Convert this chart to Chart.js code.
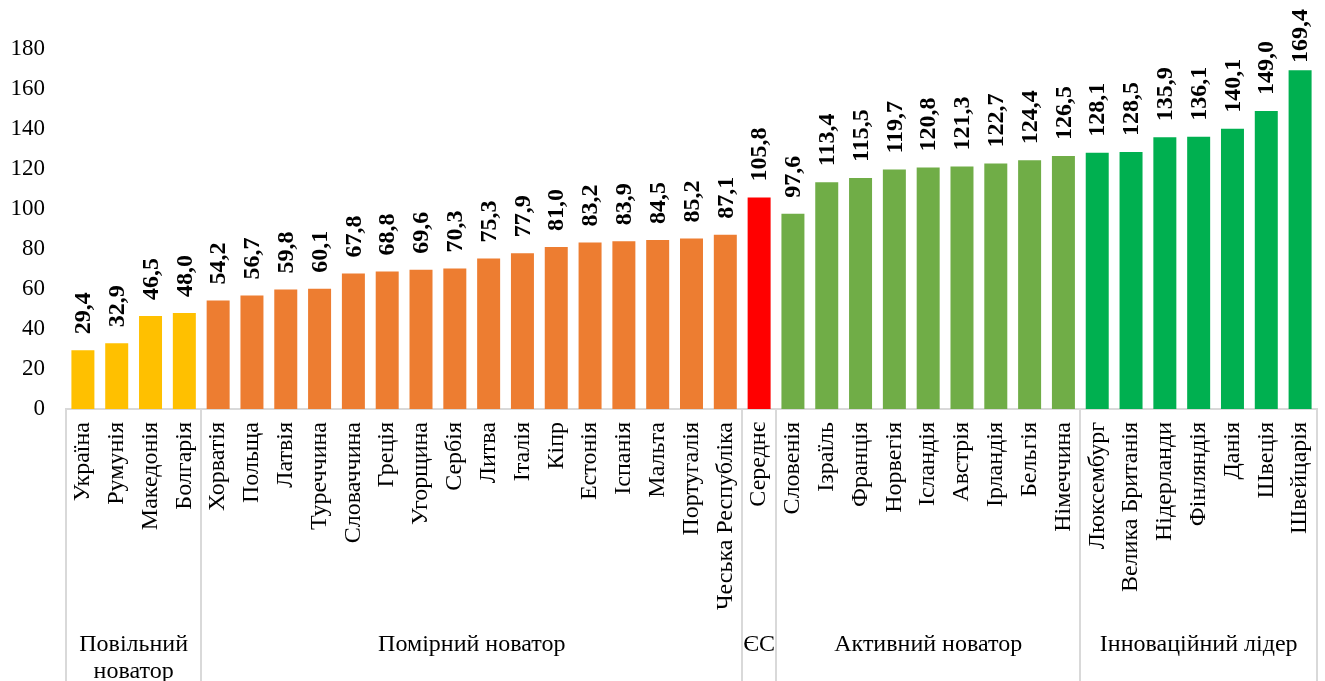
<!DOCTYPE html>
<html>
<head>
<meta charset="utf-8">
<script src="https://cdn.jsdelivr.net/npm/chart.js@4/dist/chart.umd.min.js"></script>
<style>
  html, body { margin: 0; padding: 0; background: #fff; }
  #wrap { width: 1325px; height: 681px; }
</style>
</head>
<body>
<div id="wrap"><canvas id="innovationChart" width="1325" height="681"></canvas></div>
<script>
const COUNTRIES = [
    'Україна', 'Румунія', 'Македонія', 'Болгарія',
    'Хорватія', 'Польща', 'Латвія', 'Туреччина', 'Словаччина', 'Греція', 'Угорщина', 'Сербія',
    'Литва', 'Італія', 'Кіпр', 'Естонія', 'Іспанія', 'Мальта', 'Португалія', 'Чеська Республіка',
    'Середнє',
    'Словенія', 'Ізраїль', 'Франція', 'Норвегія', 'Ісландія', 'Австрія', 'Ірландія', 'Бельгія', 'Німеччина',
    'Люксембург', 'Велика Британія', 'Нідерланди', 'Фінляндія', 'Данія', 'Швеція', 'Швейцарія'
];
const SCORES = [
    29.4, 32.9, 46.5, 48.0,
    54.2, 56.7, 59.8, 60.1, 67.8, 68.8, 69.6, 70.3, 75.3, 77.9, 81.0, 83.2, 83.9, 84.5, 85.2, 87.1,
    105.8,
    97.6, 113.4, 115.5, 119.7, 120.8, 121.3, 122.7, 124.4, 126.5,
    128.1, 128.5, 135.9, 136.1, 140.1, 149.0, 169.4
];
const GROUP_NAMES = [['Повільний', 'новатор'], ['Помірний новатор'], ['ЄС'], ['Активний новатор'], ['Інноваційний лідер']];
const GROUP_SIZES = [4, 16, 1, 9, 7];
const GROUP_COLORS = ['#FFC000', '#ED7D31', '#FF0000', '#70AD47', '#00B050'];
const Y_TICKS = [0, 20, 40, 60, 80, 100, 120, 140, 160, 180];

const FONT = '"Liberation Serif", "Times New Roman", serif';

// colour of each bar comes from its group
var barColors = [];
GROUP_SIZES.forEach(function(n, g) {
    for (var i = 0; i < n; i++) barColors.push(GROUP_COLORS[g]);
});

// value labels above bars, rotated; kept inside the canvas like Excel does
const valueLabels = {
    id: 'valueLabels',
    afterDatasetsDraw(chart) {
        const ctx = chart.ctx;
        const meta = chart.getDatasetMeta(0);
        ctx.save();
        ctx.font = 'bold 24px ' + FONT;
        ctx.fillStyle = '#000';
        ctx.textAlign = 'left';
        ctx.textBaseline = 'middle';
        meta.data.forEach(function(bar, i) {
            const txt = SCORES[i].toFixed(1).replace('.', ',');
            const w = ctx.measureText(txt).width;
            var y = bar.y - 16;
            if (y - w < 9) y = 9 + w;
            ctx.save();
            ctx.translate(bar.x, y);
            ctx.rotate(-Math.PI / 2);
            ctx.fillText(txt, 0, 1);
            ctx.restore();
        });
        ctx.restore();
    }
};

// group separators and group names under the axis
const groupAxis = {
    id: 'groupAxis',
    afterDraw(chart) {
        const ctx = chart.ctx;
        const xs = chart.scales.x;
        const area = chart.chartArea;
        const half = (xs.getPixelForValue(1) - xs.getPixelForValue(0)) / 2;
        ctx.save();
        ctx.strokeStyle = '#d9d9d9';
        ctx.lineWidth = 2;
        ctx.font = '24px ' + FONT;
        ctx.fillStyle = '#000';
        ctx.textAlign = 'center';
        ctx.textBaseline = 'middle';
        var start = 0;
        var edges = [xs.getPixelForValue(0) - half];
        GROUP_SIZES.forEach(function(n, g) {
            const x0 = xs.getPixelForValue(start) - half;
            const x1 = xs.getPixelForValue(start + n - 1) + half;
            edges.push(x1);
            GROUP_NAMES[g].forEach(function(t, k) {
                ctx.fillText(t, (x0 + x1) / 2, 645 + k * 27);
            });
            start += n;
        });
        edges.forEach(function(x) {
            ctx.beginPath();
            ctx.moveTo(Math.round(x), area.bottom);
            ctx.lineTo(Math.round(x), chart.height);
            ctx.stroke();
        });
        ctx.restore();
    }
};

new Chart(document.getElementById('innovationChart'), {
    type: 'bar',
    data: {
        labels: COUNTRIES,
        datasets: [{
            label: 'Індекс',
            data: SCORES,
            backgroundColor: barColors,
            barPercentage: 0.68,
            categoryPercentage: 1
        }]
    },
    options: {
        responsive: false,
        animation: false,
        layout: { padding: { top: 49, right: 8, left: 0, bottom: 0 } },
        plugins: {
            legend: { display: false },
            tooltip: { enabled: false }
        },
        scales: {
            x: {
                grid: { display: false, drawTicks: false },
                border: { display: true, color: '#d9d9d9', width: 2 },
                ticks: {
                    autoSkip: false,
                    maxRotation: 90,
                    minRotation: 90,
                    padding: 13,
                    color: '#000',
                    font: { family: FONT, size: 24 }
                },
                afterFit(scale) {
                    scale.height = 272;
                    scale.paddingLeft = 0;
                    scale.paddingRight = 0;
                }
            },
            y: {
                min: 0,
                max: 180,
                grid: { display: false, drawTicks: false },
                border: { display: false },
                afterBuildTicks(scale) { scale.ticks = Y_TICKS.map(function(v) { return { value: v }; }); },
                ticks: {
                    padding: 21,
                    color: '#000',
                    font: { family: FONT, size: 23 }
                },
                afterFit(scale) { scale.width = 66; }
            }
        }
    },
    plugins: [valueLabels, groupAxis]
});
</script>
</body>
</html>
